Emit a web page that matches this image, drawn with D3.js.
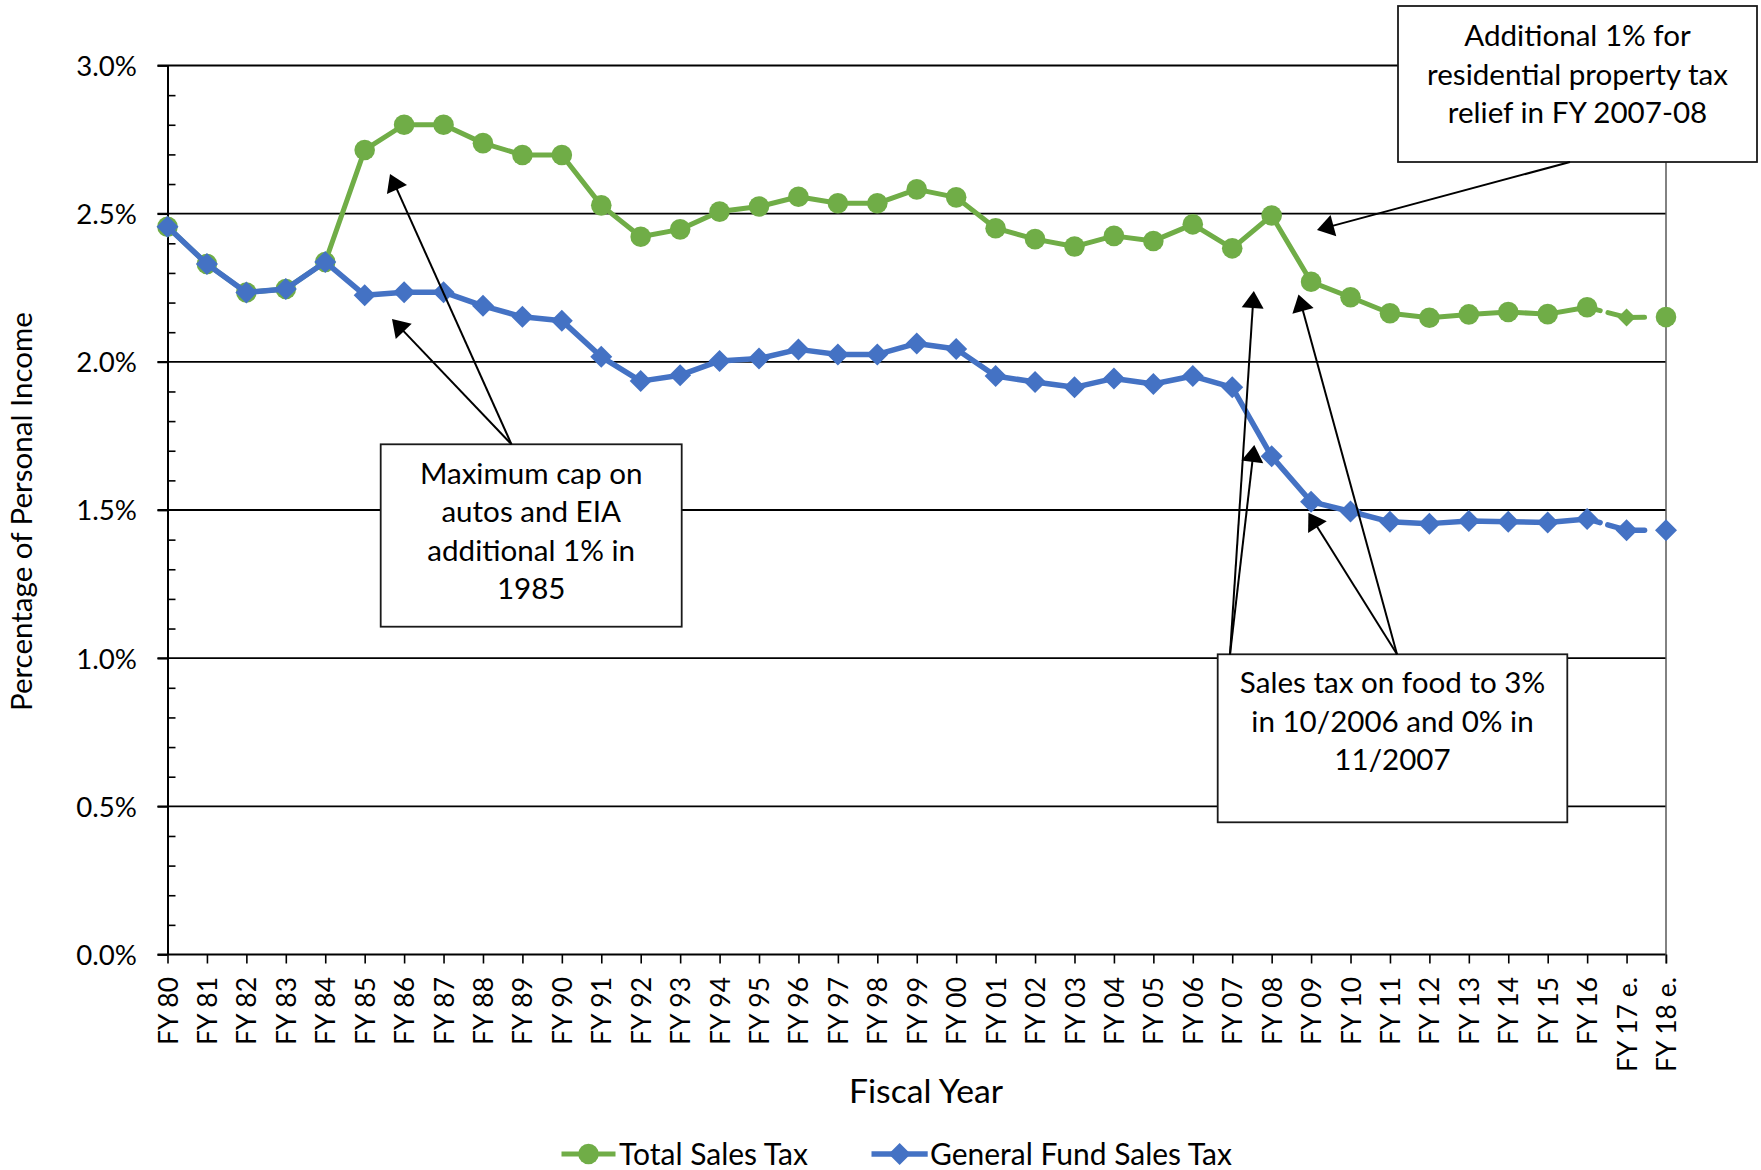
<!DOCTYPE html>
<html><head><meta charset="utf-8">
<script src="https://cdnjs.cloudflare.com/ajax/libs/d3/7.8.5/d3.min.js"></script>
<style>html,body{margin:0;padding:0;background:#fff;}svg{display:block;}</style>
</head><body>
<svg id="chart" width="1761" height="1170"></svg>
<script>
// ---------- DATA ----------
const categories = ["FY 80","FY 81","FY 82","FY 83","FY 84","FY 85","FY 86","FY 87","FY 88","FY 89","FY 90",
  "FY 91","FY 92","FY 93","FY 94","FY 95","FY 96","FY 97","FY 98","FY 99","FY 00",
  "FY 01","FY 02","FY 03","FY 04","FY 05","FY 06","FY 07","FY 08","FY 09","FY 10",
  "FY 11","FY 12","FY 13","FY 14","FY 15","FY 16","FY 17 e.","FY 18 e."];
const totalSalesTax = [2.456,2.330,2.234,2.246,2.337,2.715,2.800,2.800,2.738,2.698,2.698,
  2.528,2.422,2.447,2.507,2.524,2.557,2.535,2.535,2.582,2.555,
  2.451,2.414,2.389,2.425,2.408,2.464,2.383,2.494,2.270,2.218,
  2.164,2.149,2.160,2.168,2.161,2.184,2.150,2.151];
const generalFundSalesTax = [2.456,2.330,2.234,2.246,2.337,2.225,2.235,2.235,2.189,2.152,2.139,
  2.017,1.935,1.955,2.003,2.011,2.042,2.025,2.025,2.062,2.043,
  1.952,1.932,1.914,1.944,1.925,1.952,1.914,1.681,1.528,1.495,
  1.460,1.454,1.463,1.460,1.458,1.470,1.432,1.432];
const yTickValues = [0,0.5,1.0,1.5,2.0,2.5,3.0];
const yTickLabels = ["0.0%","0.5%","1.0%","1.5%","2.0%","2.5%","3.0%"];
const seriesNames = ["Total Sales Tax","General Fund Sales Tax"];
const estimateLabels = ["FY 17 e.","FY 18 e."];
const annotationTexts = [
  ["Maximum cap on","autos and EIA","additional 1% in","1985"],
  ["Sales tax on food to 3%","in 10/2006 and 0% in","11/2007"],
  ["Additional 1% for","residential property tax","relief in FY 2007-08"]
];

// ---------- LAYOUT ----------
const FONT = "Lato, 'Open Sans', sans-serif";
const GREEN = "#70AD47", BLUE = "#4472C4";
const L = 167.5, R = 1666, T = 65.5, B = 954.5;
const svg = d3.select("#chart");

const meas = svg.append("g").attr("opacity",0);
function measure(str, size){ const t = meas.append("text").attr("font-family",FONT).attr("font-size",size).text(str); const w = t.node().getComputedTextLength(); t.remove(); return w; }
function fit(str, target){ return 100*target/measure(str,100); }

const ySize = fit("1.0%", 60.7);
const xSize = fit("FY 17 e.", 95);
const annSize = (fit("Maximum cap on",224)+fit("residential property tax",303)+fit("Sales tax on food to 3%",301.7))/3;
const legSize = (fit("Total Sales Tax",189)+fit("General Fund Sales Tax",302))/2;
const xTitleSize = fit("Fiscal Year",154);
const yTitleSize = fit("Percentage of Personal Income",399);

const x = d3.scalePoint().domain(categories).range([L,R]).padding(0);
const y = d3.scaleLinear().domain([0,3]).range([B,T]);

// gridlines
svg.append("g").selectAll("line").data(yTickValues).join("line")
  .attr("x1",L-10).attr("x2",R).attr("y1",d=>y(d)).attr("y2",d=>y(d))
  .attr("stroke","#000").attr("stroke-width",1.8);

// right border
svg.append("line").attr("x1",R).attr("x2",R).attr("y1",T).attr("y2",B+9)
  .attr("stroke","#595959").attr("stroke-width",1.5);

// minor ticks (inside)
const minor = d3.range(0,31).map(i=>i/10).filter(v=>Math.abs(v*2-Math.round(v*2))>1e-6);
svg.append("g").attr("transform",`translate(${L},0)`)
  .call(d3.axisRight(y).tickValues(minor).tickSize(8).tickSizeOuter(0).tickFormat(""))
  .call(g=>{g.select(".domain").remove(); g.selectAll("line").attr("stroke","#000").attr("stroke-width",1.6);});

// y axis
svg.append("g").attr("transform",`translate(${L},0)`)
  .call(d3.axisLeft(y).tickValues(yTickValues).tickSize(10).tickSizeOuter(0).tickPadding(20)
    .tickFormat((d,i)=>yTickLabels[i]))
  .call(g=>{
    g.select(".domain").attr("stroke","#000").attr("stroke-width",2);
    g.selectAll("line").attr("stroke","#000").attr("stroke-width",1.8);
    g.selectAll("text").attr("font-family",FONT).attr("font-size",ySize).attr("fill","#000")
      .attr("x",137-L).attr("dy","0.36em");
  });

// x axis
svg.append("g").attr("transform",`translate(0,${B})`)
  .call(d3.axisBottom(x).tickSize(9).tickSizeOuter(0))
  .call(g=>{
    g.select(".domain").remove();
    g.selectAll("line").attr("stroke","#000").attr("stroke-width",1.6);
    g.selectAll("text").attr("font-family",FONT).attr("font-size",xSize).attr("fill","#000")
      .attr("y",null).attr("dy","0.36em").attr("text-anchor","end")
      .attr("transform","translate(0,22.5) rotate(-90)");
  });

// axis titles
svg.append("text").attr("x",926).attr("y",1103).attr("text-anchor","middle")
  .attr("font-family",FONT).attr("font-size",xTitleSize).attr("fill","#000").text("Fiscal Year");
svg.append("text").attr("transform","translate(31.5,511.6) rotate(-90)").attr("text-anchor","middle")
  .attr("font-family",FONT).attr("font-size",yTitleSize).attr("fill","#000").text("Percentage of Personal Income");

// series
const nSolid = categories.length - estimateLabels.length; // index of FY 16 is nSolid-1
function drawSeries(values, color, lw, marker){
  const g = svg.append("g");
  const pts = categories.map((c,i)=>[x(c), y(values[i])]);
  const line = d3.line();
  g.append("path").attr("d", line(pts.slice(0,nSolid))).attr("fill","none")
    .attr("stroke",color).attr("stroke-width",lw).attr("stroke-linejoin","round");
  // dashed estimate segments (pattern restarts each segment)
  const dashes = ["13.5,8,40","18,40"];
  for(let k=nSolid-1;k<categories.length-1;k++){
    g.append("path").attr("d", line([pts[k],pts[k+1]])).attr("fill","none")
      .attr("stroke",color).attr("stroke-width",lw).attr("stroke-linecap","round")
      .attr("stroke-dasharray",dashes[k-(nSolid-1)]);
  }
  g.selectAll(".m").data(pts).join("path").attr("class","m")
    .attr("transform",d=>`translate(${d[0]},${d[1]})`)
    .attr("d",(d,i)=>marker(i)).attr("fill",color);
}
const circle = r => `M${-r},0A${r},${r} 0 1,0 ${r},0A${r},${r} 0 1,0 ${-r},0Z`;
const diamond = r => `M0,${-r}L${r},0L0,${r}L${-r},0Z`;
drawSeries(totalSalesTax, GREEN, 5, i => categories[i]===estimateLabels[0] ? diamond(9) : circle(10.3));
drawSeries(generalFundSalesTax, BLUE, 5.5, i => diamond(11));

// annotation boxes
const boxes = [
  {x0:380.7,y0:444.3,x1:681.7,y1:626.7,b0:484,lh:38.4},
  {x0:1217.7,y0:654.3,x1:1567.3,y1:822.3,b0:693.3,lh:38.4},
  {x0:1398,y0:6,x1:1757,y1:162,b0:46,lh:38.6}
];
boxes.forEach((b,i)=>{
  svg.append("rect").attr("x",b.x0).attr("y",b.y0).attr("width",b.x1-b.x0).attr("height",b.y1-b.y0)
    .attr("fill","#fff").attr("stroke","#1a1a1a").attr("stroke-width",1.8);
  const t = svg.append("text").attr("font-family",FONT).attr("font-size",annSize).attr("fill","#000")
    .attr("text-anchor","middle");
  annotationTexts[i].forEach((s,j)=>t.append("tspan").attr("x",(b.x0+b.x1)/2).attr("y",b.b0+j*b.lh).text(s));
});

// arrows
const arrows = [
  [[511.5,444.3],[390,174]],
  [[511.5,444.3],[392,319]],
  [[1230,654.3],[1253.8,291]],
  [[1230,654.3],[1254.3,445]],
  [[1397,654.3],[1298.5,294.5]],
  [[1397,654.3],[1308.4,512.8]],
  [[1570,162],[1317,230]]
];
const AL = 17, AW = 11;
arrows.forEach(([f,t])=>{
  const dx=t[0]-f[0], dy=t[1]-f[1], len=Math.hypot(dx,dy), ux=dx/len, uy=dy/len;
  const bx=t[0]-ux*AL, by=t[1]-uy*AL;
  svg.append("line").attr("x1",f[0]).attr("y1",f[1]).attr("x2",bx+ux*2).attr("y2",by+uy*2)
    .attr("stroke","#000").attr("stroke-width",2);
  svg.append("path").attr("d",`M${t[0]},${t[1]}L${bx-uy*AW},${by+ux*AW}L${bx+uy*AW},${by-ux*AW}Z`).attr("fill","#000");
});

// legend
const leg = [
  {name:seriesNames[0], color:GREEN, x0:561.5, x1:615.5, tx:619, m:circle(10.3), lw:5},
  {name:seriesNames[1], color:BLUE, x0:871.5, x1:927.7, tx:930, m:diamond(11), lw:5.5}
];
const LY = 1154;
leg.forEach(l=>{
  svg.append("line").attr("x1",l.x0).attr("x2",l.x1).attr("y1",LY).attr("y2",LY)
    .attr("stroke",l.color).attr("stroke-width",l.lw);
  svg.append("path").attr("transform",`translate(${(l.x0+l.x1)/2},${LY})`).attr("d",l.m).attr("fill",l.color);
  svg.append("text").attr("x",l.tx).attr("y",LY).attr("dy","0.36em").attr("font-family",FONT)
    .attr("font-size",legSize).attr("fill","#000").text(l.name);
});
</script>
</body></html>
